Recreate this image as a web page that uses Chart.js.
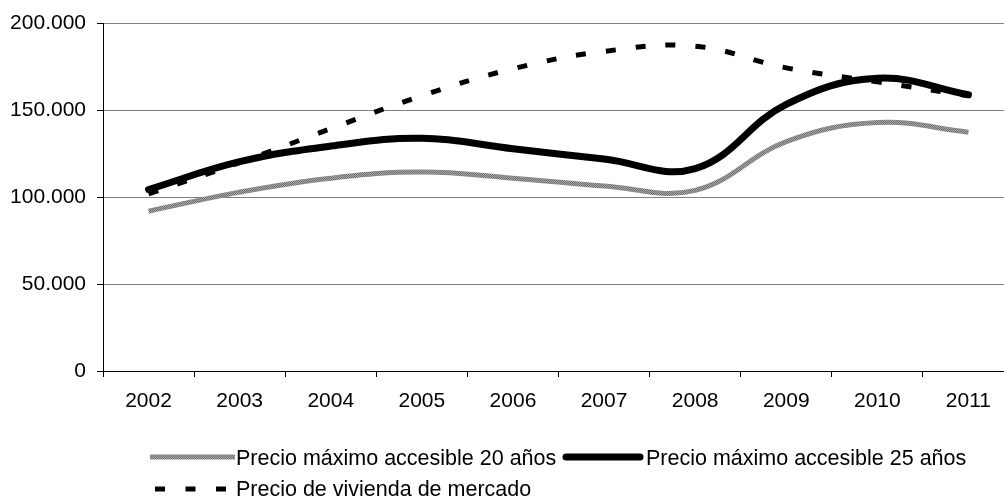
<!DOCTYPE html>
<html lang="es">
<head>
    <meta charset="UTF-8">
    <title>Precio máximo accesible y precio de vivienda de mercado</title>
    <script src="https://cdn.jsdelivr.net/npm/chart.js"></script>
    <style>
        html, body { margin: 0; padding: 0; background: #fff; overflow: hidden; }
        body { font-family: 'Liberation Sans', Arial, sans-serif; }
        .wrap { position: relative; width: 1016px; height: 501px; }
        .legend-item {
            position: absolute;
            display: flex;
            align-items: center;
            height: 26px;
            font-size: 21.5px;
            color: #000;
            white-space: nowrap;
        }
        .legend-item svg { display: block; }
    </style>
</head>
<body>
<div class="wrap">
    <canvas id="chartPrecios" width="1016" height="501"></canvas>
    <div id="legend"></div>
</div>

<script>
    // --- Datos ---
    const years = ['2002', '2003', '2004', '2005', '2006', '2007', '2008', '2009', '2010', '2011'];
    const seriesNames = [
        'Precio máximo accesible 20 años',
        'Precio máximo accesible 25 años',
        'Precio de vivienda de mercado'
    ];
    const precio20 = [92000, 103000, 111000, 114500, 111000, 106500, 104000, 132000, 143000, 137500];
    const precio25 = [104500, 120500, 129500, 134000, 128000, 122000, 116500, 153500, 168500, 159000];
    const mercado  = [102000, 120000, 139500, 158500, 174000, 184000, 187000, 174500, 166500, 158500];
    const yTicks = [0, 50000, 100000, 150000, 200000];

    const tickFont = { family: "'Liberation Sans', Arial, sans-serif", size: 21 };

    // 200000 -> "200.000"
    function formatMiles(v) {
        return String(v).replace(/\B(?=(\d{3})+(?!\d))/g, '.');
    }

    // textura gris de la serie de 20 años
    function grayPattern(ctx) {
        const c = document.createElement('canvas');
        c.width = 2; c.height = 2;
        const p = c.getContext('2d');
        p.fillStyle = '#a8a8a8'; p.fillRect(0, 0, 2, 2);
        p.fillStyle = '#6e6e6e'; p.fillRect(0, 0, 1, 1); p.fillRect(1, 1, 1, 1);
        return ctx.createPattern(c, 'repeat');
    }

    const ctx = document.getElementById('chartPrecios').getContext('2d');

    new Chart(ctx, {
        type: 'line',
        data: {
            labels: years,
            datasets: [
                {
                    label: seriesNames[0],
                    data: precio20,
                    borderColor: grayPattern(ctx),
                    borderWidth: 5,
                    order: 3
                },
                {
                    label: seriesNames[1],
                    data: precio25,
                    borderColor: '#000',
                    borderWidth: 7,
                    borderCapStyle: 'round',
                    order: 2
                },
                {
                    label: seriesNames[2],
                    data: mercado,
                    borderColor: '#000',
                    borderWidth: 5,
                    borderDash: [10, 20],
                    borderCapStyle: 'butt',
                    order: 1
                }
            ]
        },
        options: {
            responsive: false,
            animation: false,
            layout: { padding: { top: 22, right: 2, bottom: 90, left: 0 } },
            elements: {
                point: { radius: 0 },
                line: { tension: 0.4, fill: false }
            },
            plugins: {
                legend: { display: false },
                tooltip: { enabled: false }
            },
            scales: {
                x: {
                    offset: true,
                    grid: { offset: true, drawOnChartArea: false, tickLength: 6, color: '#000' },
                    border: { color: '#000' },
                    ticks: { font: tickFont, color: '#000', padding: 12, maxRotation: 0 },
                    afterFit(scale) { scale.height = 40; }
                },
                y: {
                    min: 0,
                    max: 200000,
                    afterBuildTicks(scale) { scale.ticks = yTicks.map(v => ({ value: v })); },
                    grid: { color: '#808080', tickColor: '#000', tickLength: 6 },
                    border: { color: '#000' },
                    ticks: { font: tickFont, color: '#000', padding: 11, callback: v => formatMiles(v) },
                    afterFit(scale) { scale.width = 103; }
                }
            }
        }
    });

    // --- Leyenda (HTML) ---
    const legendLayout = [
        { left: 150, top: 445, svg: '<svg width="86" height="26"><defs><pattern id="pg" width="2" height="2" patternUnits="userSpaceOnUse"><rect width="2" height="2" fill="#a8a8a8"/><rect width="1" height="1" fill="#6e6e6e"/><rect x="1" y="1" width="1" height="1" fill="#6e6e6e"/></pattern></defs><line x1="0" y1="12" x2="85" y2="12" stroke="url(#pg)" stroke-width="5"/></svg>' },
        { left: 560, top: 445, svg: '<svg width="86" height="26"><line x1="6" y1="12" x2="80" y2="12" stroke="#000" stroke-width="7" stroke-linecap="round"/></svg>' },
        { left: 150, top: 476, svg: '<svg width="86" height="26"><line x1="5" y1="13" x2="85" y2="13" stroke="#000" stroke-width="5" stroke-dasharray="10 20.5"/></svg>' }
    ];
    const legendEl = document.getElementById('legend');
    seriesNames.forEach((name, i) => {
        const item = document.createElement('div');
        item.className = 'legend-item';
        item.style.left = legendLayout[i].left + 'px';
        item.style.top = legendLayout[i].top + 'px';
        item.innerHTML = legendLayout[i].svg;
        const span = document.createElement('span');
        span.textContent = name;
        item.appendChild(span);
        legendEl.appendChild(item);
    });
</script>
</body>
</html>
